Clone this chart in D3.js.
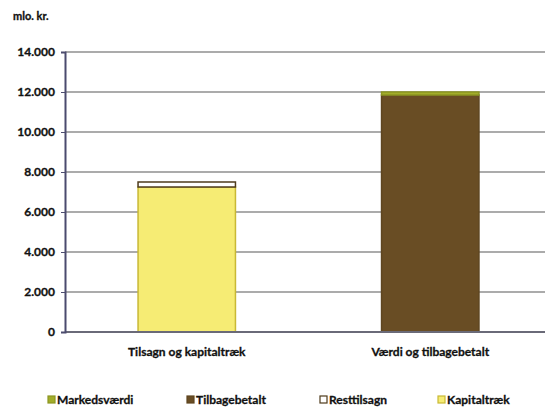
<!DOCTYPE html>
<html>
<head>
<meta charset="utf-8">
<script src="https://cdn.jsdelivr.net/npm/d3@7"></script>
<style>
body{margin:0;background:#fff;}
text{font-family:Lato,"Open Sans",sans-serif;font-weight:bold;fill:#111;stroke:#111;stroke-width:0.3px;}
</style>
</head>
<body>
<svg width="545" height="412"></svg>
<script>
var categories = ["Tilsagn og kapitaltræk", "Værdi og tilbagebetalt"]
var kapitaltraek = [7250, 0]
var resttilsagn = [250, 0]
var tilbagebetalt = [0, 11850]
var markedsvaerdi = [0, 150]
var yTicks = [0, 2000, 4000, 6000, 8000, 10000, 12000, 14000]
var legendNames = ["Markedsværdi", "Tilbagebetalt", "Resttilsagn", "Kapitaltræk"]

var series = [
    {name:"Kapitaltræk", values:kapitaltraek, fill:"#f6ec74", stroke:"#c9b935"},
    {name:"Resttilsagn", values:resttilsagn, fill:"#ffffff", stroke:"#4f3b1c"},
    {name:"Tilbagebetalt", values:tilbagebetalt, fill:"#694d24", stroke:"#5e4520"},
    {name:"Markedsværdi", values:markedsvaerdi, fill:"#a2ad2a", stroke:"#8c9622"}
]

var fmt = function(v){ return d3.format(",")(v).replace(/,/g,".") }

var svg = d3.select("svg")

var xScale = d3.scaleBand()
    .domain(categories)
    .range([65, 552])
    .paddingInner(0.6)
    .paddingOuter(0.3)

var yScale = d3.scaleLinear()
    .domain([0, 14000])
    .range([332, 52])

// gridlines
svg.append("g")
    .selectAll("line")
    .data(yTicks.filter(function(d){return d>0}))
    .enter()
    .append("line")
    .attr("x1", 65)
    .attr("x2", 545)
    .attr("y1", function(d){return yScale(d)})
    .attr("y2", function(d){return yScale(d)})
    .attr("stroke", "#8f8f8f")
    .attr("stroke-width", 1.5)

// stacked bars
var stacked = []
categories.forEach(function(c, i){
    var base = 0
    series.forEach(function(s){
        if (s.values[i] > 0) {
            stacked.push({cat:c, y0:base, y1:base+s.values[i], fill:s.fill, stroke:s.stroke})
            base += s.values[i]
        }
    })
})

svg.append("g")
    .selectAll("rect")
    .data(stacked)
    .enter()
    .append("rect")
    .attr("x", function(d){return xScale(d.cat)})
    .attr("width", xScale.bandwidth())
    .attr("y", function(d){return yScale(d.y1)})
    .attr("height", function(d){return yScale(d.y0)-yScale(d.y1)})
    .attr("fill", function(d){return d.fill})
    .attr("stroke", function(d){return d.stroke})
    .attr("stroke-width", 1.5)

// x axis line
svg.append("line")
    .attr("x1", 65).attr("x2", 545)
    .attr("y1", yScale(0)).attr("y2", yScale(0))
    .attr("stroke", "#6a6a78").attr("stroke-width", 2)

// y axis
var yAxis = d3.axisLeft(yScale)
    .tickValues(yTicks)
    .tickFormat(fmt)
    .tickSize(4)
    .tickPadding(6)

var yg = svg.append("g")
    .attr("transform", "translate(65,0)")
    .call(yAxis)
yg.select(".domain").attr("stroke", "#4b4b6e").attr("stroke-width", 2)
yg.selectAll(".tick line").attr("stroke", "#4b4b6e")
yg.selectAll("text").style("font-size", "12px").attr("fill", "#111")

// x labels
svg.append("g")
    .selectAll("text")
    .data(categories)
    .enter()
    .append("text")
    .attr("x", function(d){return xScale(d)+xScale.bandwidth()/2})
    .attr("y", 356)
    .attr("text-anchor", "middle")
    .style("font-size", "12px")
    .text(function(d){return d})

// unit
svg.append("text")
    .attr("x", 13).attr("y", 20)
    .style("font-size", "11px")
    .text("mlo. kr.")

// legend
var legendX = [48, 187, 320, 438]
var lg = svg.append("g")
    .selectAll("g")
    .data(legendNames)
    .enter()
    .append("g")
    .attr("transform", function(d,i){return "translate("+legendX[i]+",404)"})

lg.append("rect")
    .attr("x", 0).attr("y", -8)
    .attr("width", 7).attr("height", 7)
    .attr("fill", function(d){return series.find(function(s){return s.name==d}).fill})
    .attr("stroke", function(d){return series.find(function(s){return s.name==d}).stroke})
    .attr("stroke-width", 1.2)

lg.append("text")
    .attr("x", 9).attr("y", 0)
    .style("font-size", "12px")
    .text(function(d){return d})
</script>
</body>
</html>
